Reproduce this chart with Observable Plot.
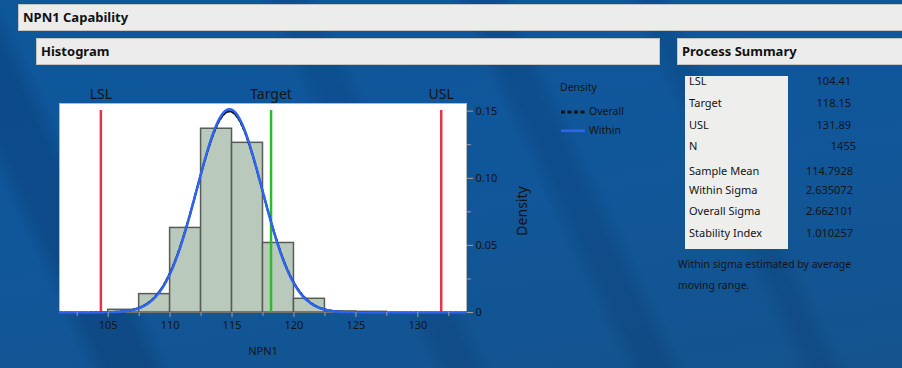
<!DOCTYPE html>
<html><head><meta charset="utf-8">
<script src="https://cdn.jsdelivr.net/npm/d3@7"></script>
<script src="https://cdn.jsdelivr.net/npm/@observablehq/plot@0.6"></script>
<style>
html,body{margin:0;padding:0;}
body{width:902px;height:368px;overflow:hidden;position:relative;font-family:"Noto Sans","Open Sans",sans-serif;color:#141414;
background:
 linear-gradient(65deg, transparent 0 8%, rgba(0,20,60,.18) 10% 14%, transparent 16% 40%, rgba(0,20,60,.12) 42% 44%, transparent 46% 58%, rgba(0,20,60,.14) 60% 62%, transparent 64% 74%, rgba(0,20,60,.12) 76% 77%, transparent 79%),
 linear-gradient(170deg, #0e579b 0%, #10579a 50%, #14538d 100%);}
.panel{position:absolute;background:#ececec;border:1px solid #c4c4c4;box-sizing:border-box;font-weight:bold;font-size:13px;line-height:25px;padding-left:4px;color:#111;}
#chart{position:absolute;left:0;top:0;}
#legend{position:absolute;left:560px;top:80px;font-size:10.5px;}
.lg{position:absolute;white-space:nowrap;}
#tbl{position:absolute;left:685px;top:76px;width:103px;height:173px;background:#eeeeec;}
.lab,.val{position:absolute;font-size:11px;white-space:nowrap;line-height:14px;}
.note{position:absolute;left:678px;font-size:10.5px;white-space:nowrap;line-height:14px;}
</style></head>
<body>
<div class="panel" style="left:18px;top:4px;width:890px;height:27px;">NPN1 Capability</div>
<div class="panel" style="left:36px;top:38px;width:624px;height:27px;">Histogram</div>
<div class="panel" style="left:677px;top:38px;width:230px;height:27px;">Process Summary</div>
<div id="chart"></div>
<div id="tbl"></div>
<div id="summary"></div>
<div class="note" style="top:257px;">Within sigma estimated by average</div>
<div class="note" style="top:278px;">moving range.</div>
<div id="legend"></div>
<script>
// ---- data ----
const binStarts = [105, 107.5, 110, 112.5, 115, 117.5, 120, 122.5, 125];
const binDensity = [0.002, 0.0137, 0.063, 0.1369, 0.1264, 0.0518, 0.0102, 0.0008, 0.0005];
const binWidth = 2.5;
const specNames = ["LSL", "Target", "USL"];
const specValues = [104.41, 118.15, 131.89];
const specColors = ["#e8344a", "#2cbb2c", "#e8344a"];
const sampleMean = 114.7928;
const withinSigma = 2.635072;
const overallSigma = 2.662101;
const xTicks = [105, 110, 115, 120, 125, 130];
const xMinorTicks = [102.5, 107.5, 112.5, 117.5, 122.5, 127.5, 132.5];
const yTicks = [0, 0.05, 0.10, 0.15];
const yMinorTicks = [0.025, 0.075, 0.125];
const summaryLabels = ["LSL", "Target", "USL", "N", "Sample Mean", "Within Sigma", "Overall Sigma", "Stability Index"];
const summaryValues = ["104.41", "118.15", "131.89", "1455", "114.7928", "2.635072", "2.662101", "1.010257"];
const legendTitle = "Density";
const legendNames = ["Overall", "Within"];

// ---- derived tables ----
const bins = binStarts.map((s, i) => ({x1: s, x2: s + binWidth, y: binDensity[i]}));
const specs = specNames.map((n, i) => ({name: n, x: specValues[i], color: specColors[i]}));
const xs = d3.range(101.07, 133.94, 0.05);
const normal = (mu, s) => x => Math.exp(-0.5 * ((x - mu) / s) ** 2) / (s * Math.sqrt(2 * Math.PI));
const fo = normal(sampleMean, overallSigma), fw = normal(sampleMean, withinSigma);
const overallCurve = xs.map(x => ({x, y: fo(x)}));
const withinCurve = xs.map(x => ({x, y: fw(x)}));

const chart = Plot.plot({
  width: 560, height: 368,
  marginLeft: 59, marginRight: 94, marginTop: 103, marginBottom: 56,
  x: {domain: [101.07, 133.93]},
  y: {domain: [0, 0.1557]},
  style: {background: "transparent", fontFamily: "'Noto Sans','Open Sans',sans-serif", overflow: "visible"},
  marks: [
    Plot.frame({fill: "white", stroke: "#b8b8b8"}),
    Plot.rectY(bins, {x1: "x1", x2: "x2", y: "y", fill: "#b9c9bb", stroke: "#585c58", strokeWidth: 1.5}),
    Plot.ruleX(specs, {x: "x", y1: 0, y2: 0.1505, stroke: "color", strokeWidth: 2.5}),
    Plot.line(overallCurve, {x: "x", y: "y", stroke: "#111", strokeWidth: 2.2, strokeDasharray: "3,2"}),
    Plot.line(withinCurve, {x: "x", y: "y", stroke: "#2d64f0", strokeWidth: 2.5}),
    Plot.text(specs, {x: "x", text: "name", frameAnchor: "top", dy: -14, fontSize: 14, fill: "#141414"}),
    Plot.axisX({ticks: xTicks, tickSize: 5, tickPadding: 4, label: null, stroke: "#a0a0a0", fill: "#141414", fontSize: 11}),
    Plot.axisX({ticks: xMinorTicks, tickSize: 4, tickFormat: () => "", label: null, stroke: "#a0a0a0"}),
    Plot.axisY({anchor: "right", ticks: yTicks, tickSize: 6, tickPadding: 3, label: null, tickFormat: d => d === 0 ? "0" : d.toFixed(2), stroke: "#a0a0a0", fill: "#141414", fontSize: 11}),
    Plot.axisY({anchor: "right", ticks: yMinorTicks, tickSize: 4, tickFormat: () => "", label: null, stroke: "#a0a0a0"}),
    Plot.text(["Density"], {frameAnchor: "right", textAnchor: "middle", rotate: -90, dx: 56, dy: 3, fontSize: 14, fill: "#141414"}),
    Plot.text(["NPN1"], {frameAnchor: "bottom", dy: 42, fontSize: 11, fill: "#141414"})
  ]
});
document.getElementById("chart").appendChild(chart);

// legend
const lg = document.getElementById("legend");
lg.innerHTML = `<div class="lg" style="left:0;top:0">${legendTitle}</div>
<svg style="position:absolute;left:0;top:22px" width="26" height="30">
<line x1="1" x2="25" y1="10" y2="10" stroke="#111" stroke-width="3" stroke-dasharray="4,2.5"/>
<line x1="1" x2="25" y1="29" y2="29" stroke="#2d64f0" stroke-width="3"/></svg>
<div class="lg" style="left:29px;top:24px">${legendNames[0]}</div>
<div class="lg" style="left:29px;top:43px">${legendNames[1]}</div>`;

// summary table
const rowY = [81, 103, 125, 146, 171, 190, 211, 233];
const valRight = [851, 851, 851, 856, 853, 853, 853, 853];
const sm = document.getElementById("summary");
summaryLabels.forEach((l, i) => {
  const a = document.createElement("div"); a.className = "lab";
  a.style.left = "689px"; a.style.top = (rowY[i] - 7) + "px"; a.textContent = l; sm.appendChild(a);
  const b = document.createElement("div"); b.className = "val";
  b.style.right = (902 - valRight[i]) + "px"; b.style.top = (rowY[i] - 7) + "px"; b.textContent = summaryValues[i]; sm.appendChild(b);
});
</script>
</body></html>
